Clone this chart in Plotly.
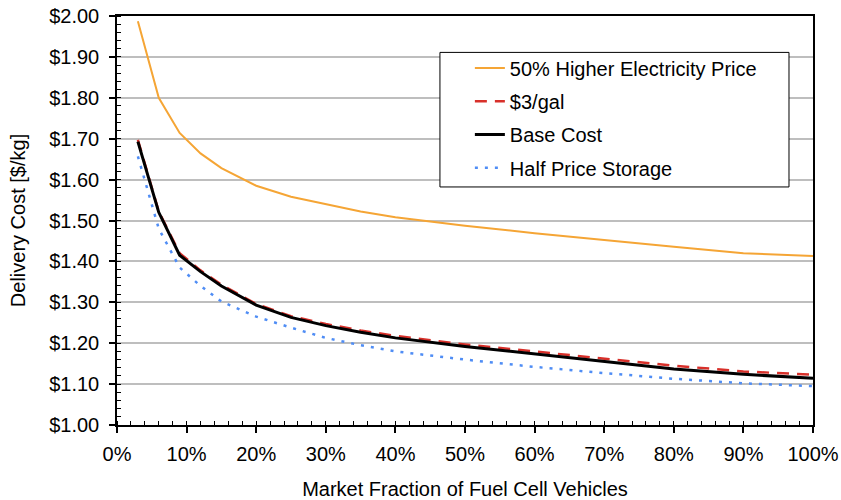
import plotly.graph_objects as go

market_pct = [3, 6, 9, 12, 15, 20, 25, 30, 35, 40, 50, 60, 70, 80, 90, 100]
higher_elec = [1.987, 1.800, 1.714, 1.664, 1.628, 1.585, 1.558, 1.540, 1.522, 1.508,
               1.487, 1.469, 1.452, 1.436, 1.420, 1.413]
gas_3 = [1.697, 1.522, 1.420, 1.378, 1.343, 1.296, 1.266, 1.247, 1.231, 1.218,
         1.197, 1.180, 1.163, 1.145, 1.131, 1.123]
base_cost = [1.693, 1.520, 1.415, 1.375, 1.340, 1.293, 1.263, 1.243, 1.227, 1.213,
             1.192, 1.174, 1.155, 1.137, 1.124, 1.114]
half_storage = [1.657, 1.480, 1.385, 1.340, 1.302, 1.265, 1.238, 1.213, 1.195, 1.180,
                1.160, 1.142, 1.127, 1.113, 1.102, 1.095]

x_ticks = list(range(0, 101, 10))
x_tick_labels = [f"{v}%" for v in x_ticks]
y_ticks = [round(1.0 + 0.1 * i, 2) for i in range(11)]
y_tick_labels = [f"${v:.2f}" for v in y_ticks]

FONT = "Arial, Liberation Sans, Helvetica, sans-serif"
FS = 20

fig = go.Figure()
fig.add_trace(go.Scatter(x=market_pct, y=higher_elec, mode="lines",
                         name="50% Higher Electricity Price", legendgroup="a",
                         line=dict(color="#F5A535", width=2)))
fig.add_trace(go.Scatter(x=market_pct, y=gas_3, mode="lines", name="$3/gal", legendgroup="b",
                         line=dict(color="#D8302A", width=2.5, dash="12px,8px")))
fig.add_trace(go.Scatter(x=market_pct, y=base_cost, mode="lines", name="Base Cost", legendgroup="c",
                         line=dict(color="#000000", width=3)))
fig.add_trace(go.Scatter(x=market_pct, y=half_storage, mode="lines", name="Half Price Storage",
                         legendgroup="d",
                         line=dict(color="#4F8DF5", width=2.5, dash="3px,7px")))

# legend frame
fig.add_shape(type="rect", xref="paper", yref="paper",
              x0=0.464, x1=0.9655, y0=0.582, y1=0.911,
              line=dict(color="black", width=1), fillcolor="white", layer="above")

axis_common = dict(zeroline=False, automargin=False, ticklabeloverflow="allow")

fig.update_layout(
    width=841, height=500,
    margin=dict(l=117, r=28, t=15.5, b=74.5),
    paper_bgcolor="white", plot_bgcolor="white",
    font=dict(family=FONT, size=FS, color="black"),
    showlegend=True,
    legend=dict(x=0.507, y=0.9207, xanchor="left", yanchor="top",
                bgcolor="rgba(0,0,0,0)", borderwidth=0,
                font=dict(size=FS), tracegroupgap=4.3, traceorder="grouped"),
    xaxis=dict(range=[0, 100], tickvals=x_ticks, ticktext=x_tick_labels,
               showgrid=False,
               showline=True, linecolor="black", linewidth=1.5, mirror=True,
               ticks="outside", ticklen=6, tickwidth=1.5, tickcolor="black",
               minor=dict(dtick=2, ticks="inside", ticklen=4, tickwidth=1, tickcolor="black"),
               tickfont=dict(size=FS), ticklabelstandoff=4,
               title=dict(text="Market Fraction of Fuel Cell Vehicles", font=dict(size=FS), standoff=19),
               **axis_common),
    yaxis=dict(range=[1.0, 2.0], tickvals=y_ticks, ticktext=y_tick_labels,
               showgrid=True, gridcolor="#BEBEBE", gridwidth=1.5,
               showline=True, linecolor="black", linewidth=1.5, mirror=True,
               ticks="outside", ticklen=6, tickwidth=1.5, tickcolor="black",
               minor=dict(dtick=0.02, ticks="inside", ticklen=4, tickwidth=1, tickcolor="black", showgrid=False),
               tickfont=dict(size=FS), ticklabelstandoff=6,
               title=dict(text="Delivery Cost [$/kg]", font=dict(size=FS), standoff=18),
               **axis_common),
    xaxis2=dict(overlaying="x", anchor="y", side="bottom", range=[0, 100], tickvals=x_ticks,
                ticks="inside", ticklen=6, tickwidth=1.5, tickcolor="black",
                showticklabels=False, showgrid=False, showline=False,
                zeroline=False, automargin=False),
    yaxis2=dict(overlaying="y", anchor="x", side="left", range=[1.0, 2.0], tickvals=y_ticks,
                ticks="inside", ticklen=6, tickwidth=1.5, tickcolor="black",
                showticklabels=False, showgrid=False, showline=False,
                zeroline=False, automargin=False),
)

fig.write_html("out.html", config={"displayModeBar": False},
               post_script="document.body.style.margin='0';document.body.style.overflow='hidden';")
